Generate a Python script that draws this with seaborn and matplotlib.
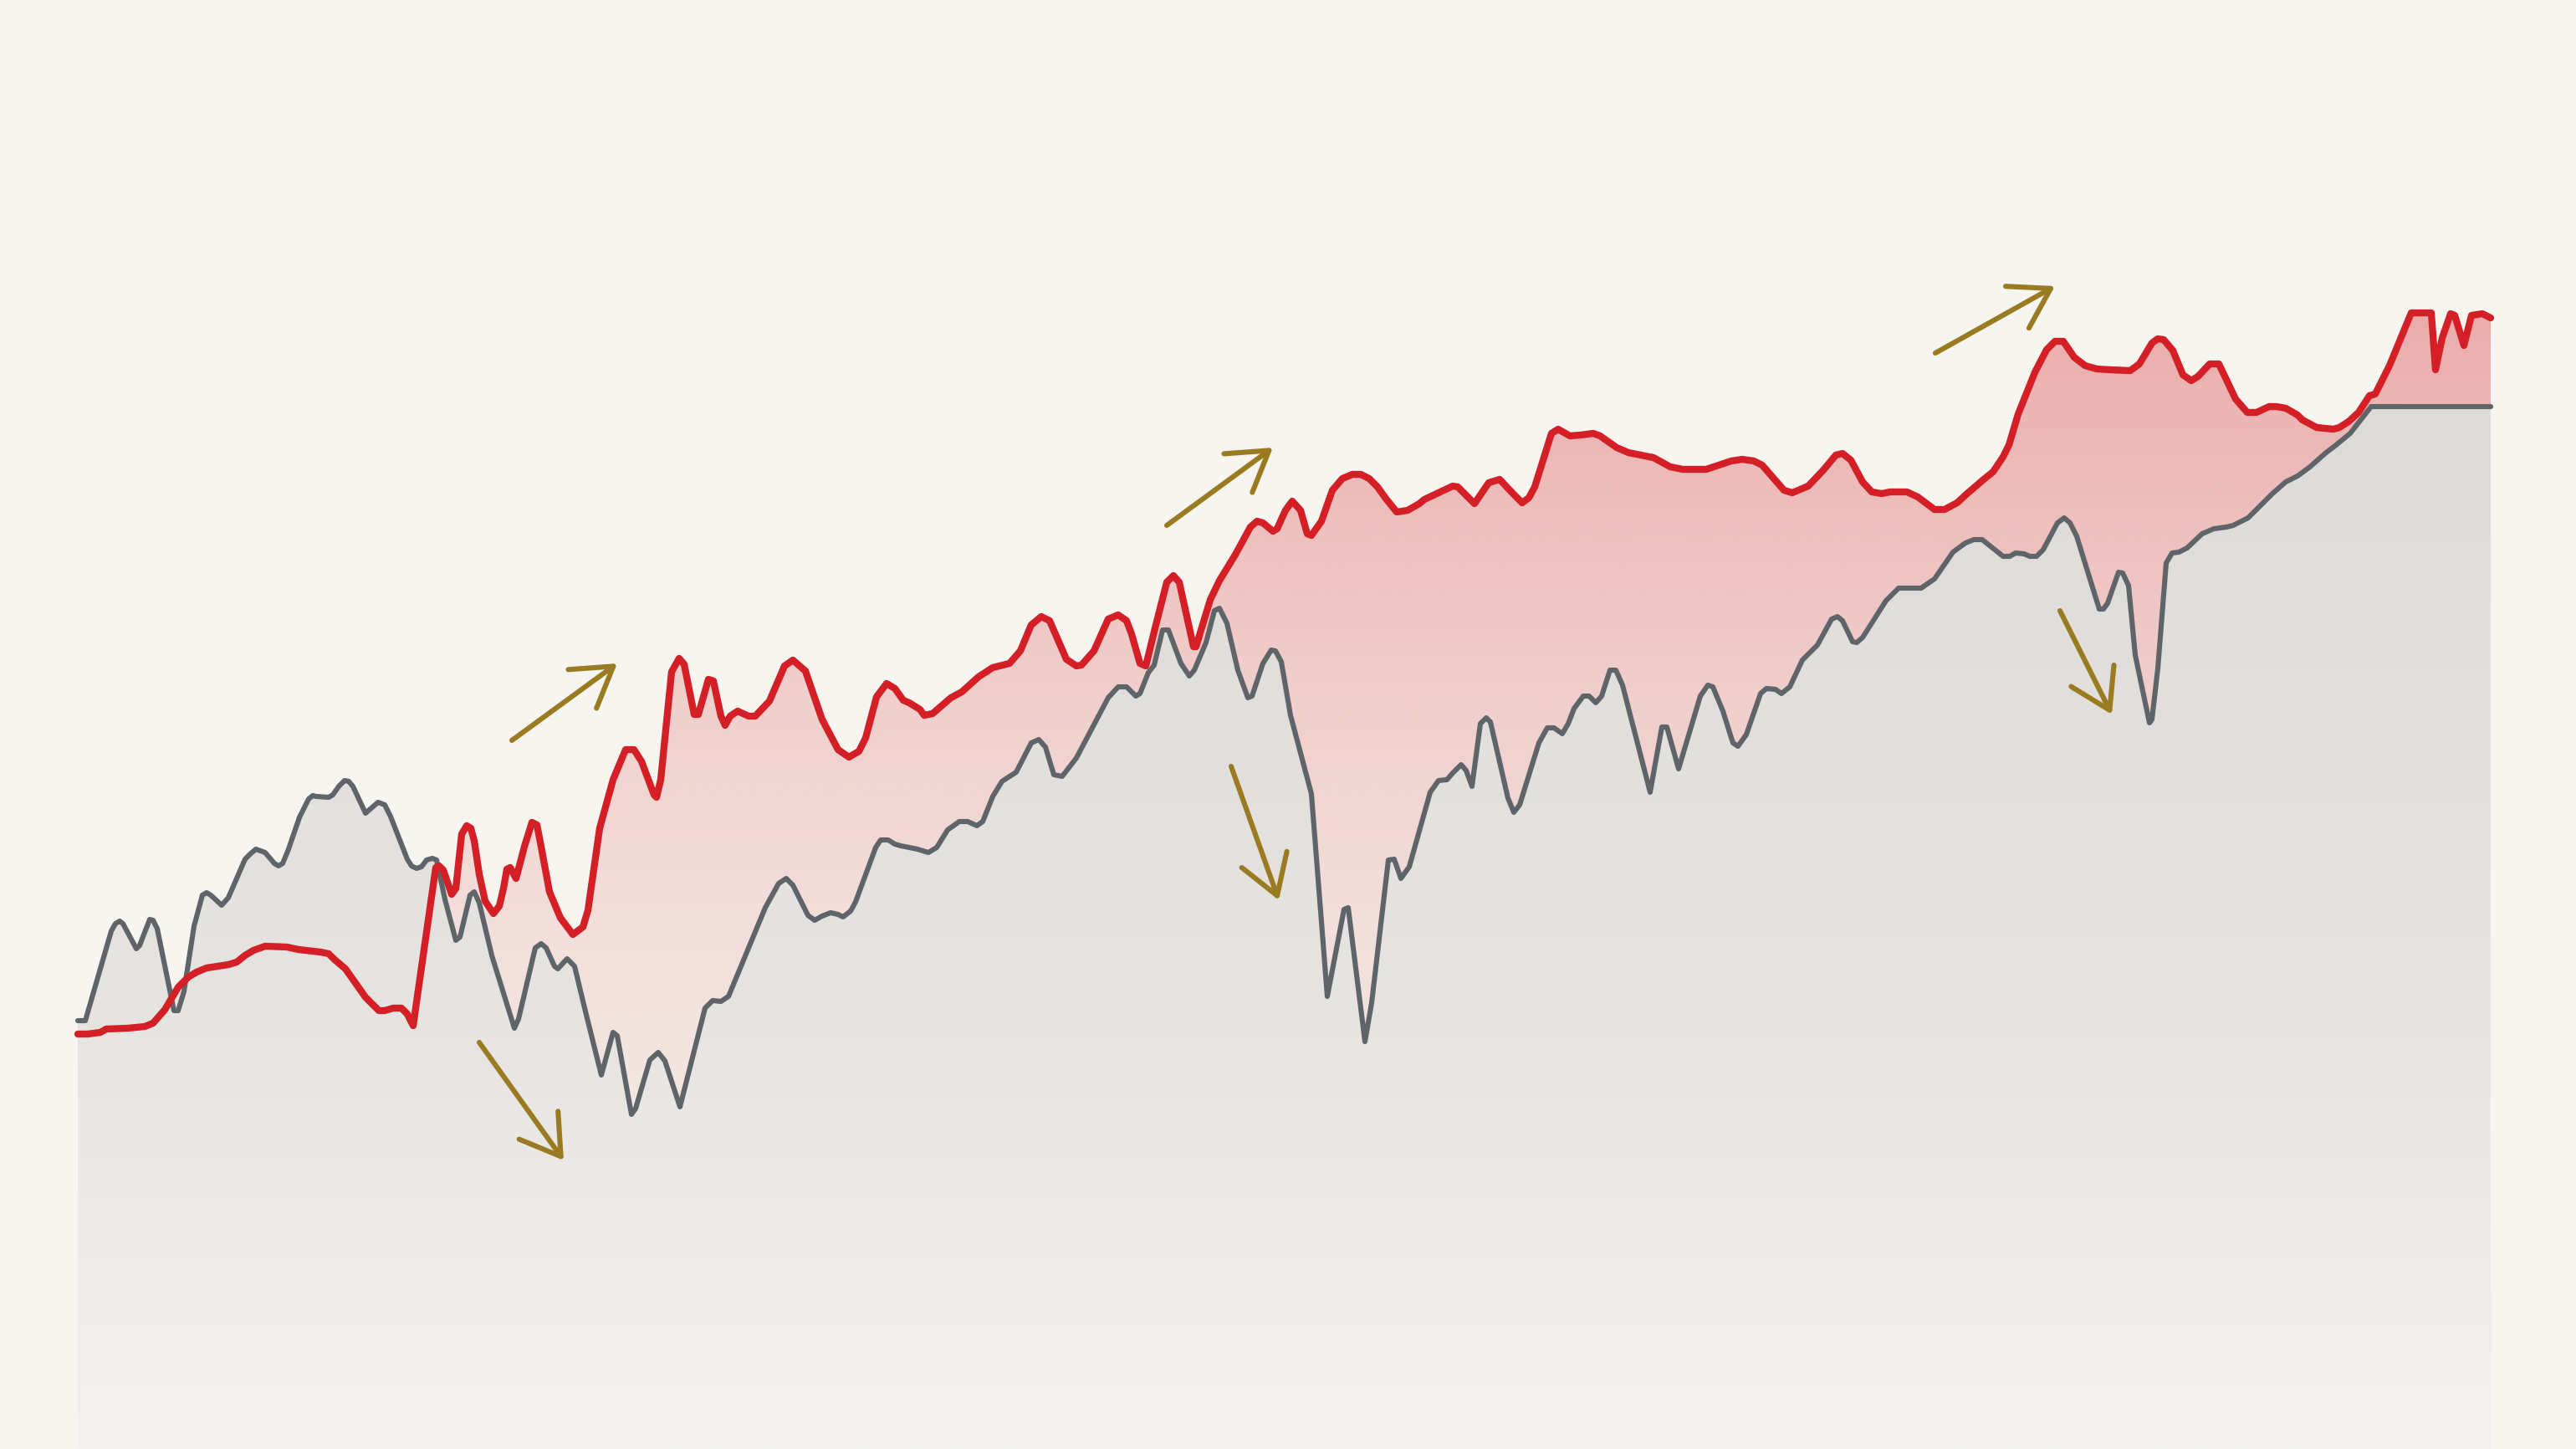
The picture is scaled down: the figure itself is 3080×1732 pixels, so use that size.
# Strategy vs. benchmark equity curve, arrows marking the swings
import numpy as np
import matplotlib
matplotlib.use("Agg")
import matplotlib.pyplot as plt
import matplotlib.colors as mcolors
import seaborn as sns

sns.set_theme(style="white")

# Benchmark (gray) - trading day and index level
bench_day = [0, 9, 40, 45, 50, 54, 70, 74, 86, 90,
             95, 115, 120, 127, 139, 149, 154, 159, 172, 180,
             200, 207, 213, 224, 235, 240, 245, 252, 265, 276,
             281, 285, 300, 305, 312, 319, 324, 329, 344, 359,
             367, 374, 394, 399, 405, 411, 417, 424, 429, 439,
             452, 457, 469, 474, 480, 495, 522, 527, 547, 554,
             560, 570, 574, 585, 594, 607, 626, 640, 645, 662,
             667, 684, 694, 702, 720, 750, 759, 769, 778, 822,
             838, 847, 855, 873, 881, 890, 900, 909, 915, 924,
             930, 954, 960, 969, 977, 984, 1004, 1017, 1027, 1040,
             1054, 1064, 1075, 1082, 1094, 1105, 1122, 1140, 1149, 1157,
             1167, 1177, 1194, 1232, 1244, 1254, 1265, 1270, 1280, 1287,
             1297, 1304, 1319, 1329, 1335, 1349, 1359, 1365, 1374, 1387,
             1399, 1404, 1417, 1427, 1432, 1439, 1450, 1475, 1494, 1514,
             1519, 1539, 1547, 1567, 1574, 1582, 1592, 1617, 1627, 1637,
             1644, 1654, 1660, 1667, 1677, 1684, 1689, 1710, 1717, 1724,
             1747, 1757, 1765, 1775, 1782, 1789, 1800, 1807, 1815, 1822,
             1832, 1839, 1847, 1880, 1894, 1900, 1914, 1940, 1949, 1955,
             1967, 1979, 1985, 1995, 2012, 2019, 2030, 2037, 2047, 2062,
             2080, 2097, 2104, 2110, 2122, 2127, 2134, 2162, 2177, 2204,
             2220, 2242, 2257, 2267, 2277, 2302, 2310, 2317, 2327, 2334,
             2342, 2350, 2367, 2375, 2382, 2390, 2417, 2422, 2427, 2440,
             2445, 2452, 2460, 2477, 2480, 2487, 2497, 2504, 2512, 2522,
             2540, 2554, 2569, 2577, 2595, 2624, 2640, 2654, 2669, 2687,
             2700, 2717, 2742, 2885]
bench_level = [512, 512, 619, 628, 631, 628, 598, 602, 633, 632,
               622, 524, 524, 547, 625, 662, 665, 662, 650, 659,
               705, 712, 717, 713, 700, 697, 700, 717, 755, 777,
               781, 780, 779, 782, 792, 799, 798, 792, 760, 773,
               770, 756, 705, 697, 694, 696, 704, 706, 704, 657,
               608, 612, 662, 666, 653, 590, 503, 514, 599, 604,
               599, 577, 574, 586, 577, 523, 447, 498, 494, 400,
               407, 465, 474, 464, 409, 527, 536, 535, 541, 647,
               676, 682, 674, 638, 632, 637, 641, 639, 636, 643,
               654, 719, 728, 728, 723, 721, 717, 713, 719, 740,
               750, 750, 745, 750, 780, 798, 809, 844, 848, 839,
               806, 804, 826, 898, 911, 911, 900, 903, 928, 937,
               979, 979, 939, 924, 931, 964, 1002, 1005, 987, 931,
               898, 900, 939, 955, 954, 941, 877, 783, 541, 645,
               647, 487, 533, 704, 705, 682, 696, 785, 799, 800,
               808, 818, 811, 792, 867, 874, 869, 778, 761, 770,
               844, 862, 862, 855, 867, 885, 900, 900, 892, 900,
               931, 931, 913, 785, 863, 863, 813, 900, 913, 911,
               882, 844, 840, 854, 903, 909, 908, 903, 911, 943,
               961, 992, 995, 990, 965, 964, 970, 1014, 1029, 1029,
               1040, 1072, 1083, 1087, 1087, 1067, 1067, 1071, 1070, 1067,
               1067, 1075, 1107, 1113, 1107, 1091, 1004, 1004, 1011, 1048,
               1047, 1032, 949, 868, 872, 933, 1059, 1071, 1072, 1077,
               1094, 1100, 1102, 1104, 1113, 1142, 1156, 1163, 1174, 1190,
               1200, 1214, 1246, 1246]

# Strategy (red)
strat_day = [0, 12, 27, 34, 60, 80, 90, 104, 120, 132,
             142, 154, 180, 190, 200, 210, 224, 250, 264, 290,
             300, 307, 320, 344, 354, 360, 367, 377, 387, 394,
             401, 428, 432, 437, 447, 452, 459, 465, 470, 474,
             480, 487, 497, 504, 509, 513, 517, 524, 534, 543,
             549, 554, 564, 577, 592, 604, 610, 624, 640, 655,
             665, 674, 689, 692, 697, 710, 719, 725, 737, 742,
             754, 760, 769, 774, 780, 789, 802, 810, 827, 845,
             855, 870, 890, 909, 922, 934, 942, 955, 967, 977,
             987, 994, 1007, 1012, 1022, 1044, 1057, 1077, 1094, 1114,
             1127, 1140, 1152, 1162, 1182, 1194, 1200, 1215, 1232, 1244,
             1254, 1260, 1270, 1277, 1287, 1302, 1310, 1317, 1334, 1337,
             1354, 1365, 1384, 1402, 1410, 1417, 1429, 1434, 1444, 1452,
             1462, 1470, 1475, 1487, 1500, 1512, 1524, 1534, 1544, 1554,
             1564, 1577, 1590, 1604, 1610, 1644, 1650, 1670, 1687, 1700,
             1717, 1727, 1735, 1742, 1762, 1770, 1784, 1797, 1812, 1820,
             1840, 1854, 1874, 1884, 1904, 1919, 1947, 1977, 1990, 2004,
             2014, 2040, 2050, 2069, 2087, 2102, 2110, 2120, 2134, 2145,
             2157, 2167, 2187, 2200, 2220, 2232, 2247, 2259, 2280, 2290,
             2302, 2309, 2320, 2340, 2354, 2364, 2374, 2387, 2400, 2414,
             2430, 2454, 2465, 2480, 2487, 2494, 2505, 2517, 2527, 2535,
             2549, 2560, 2580, 2594, 2605, 2620, 2629, 2640, 2654, 2660,
             2677, 2697, 2704, 2715, 2727, 2740, 2747, 2764, 2790, 2814,
             2819, 2827, 2837, 2842, 2853, 2862, 2875, 2885]
strat_level = [496, 496, 498, 502, 503, 505, 509, 525, 552, 564,
               570, 575, 579, 582, 590, 596, 601, 600, 597, 594,
               592, 585, 574, 540, 530, 524, 524, 527, 527, 520,
               506, 695, 697, 692, 663, 670, 735, 745, 742, 727,
               687, 655, 640, 649, 670, 693, 695, 682, 720, 749,
               746, 720, 666, 635, 615, 624, 644, 742, 800, 836,
               836, 822, 782, 779, 800, 929, 945, 938, 878, 878,
               920, 918, 876, 865, 876, 882, 876, 876, 894, 936,
               943, 930, 872, 836, 827, 834, 850, 899, 915, 909,
               895, 892, 884, 877, 879, 898, 905, 923, 934, 939,
               954, 985, 995, 990, 944, 936, 937, 954, 992, 997,
               990, 974, 939, 936, 977, 1036, 1044, 1036, 959, 959,
               1015, 1038, 1069, 1102, 1109, 1107, 1097, 1100, 1122, 1133,
               1122, 1094, 1092, 1109, 1146, 1160, 1165, 1165, 1160, 1150,
               1136, 1120, 1122, 1130, 1135, 1151, 1150, 1130, 1155, 1159,
               1141, 1131, 1137, 1150, 1214, 1219, 1211, 1212, 1214, 1211,
               1197, 1191, 1187, 1185, 1174, 1171, 1171, 1181, 1183, 1181,
               1176, 1146, 1143, 1151, 1170, 1188, 1190, 1182, 1156, 1144,
               1142, 1144, 1144, 1138, 1123, 1123, 1131, 1142, 1160, 1168,
               1186, 1200, 1237, 1287, 1314, 1324, 1324, 1305, 1295, 1291,
               1290, 1289, 1297, 1322, 1327, 1326, 1313, 1284, 1277, 1282,
               1297, 1297, 1255, 1239, 1239, 1246, 1246, 1244, 1236, 1230,
               1221, 1219, 1221, 1228, 1239, 1259, 1261, 1295, 1358, 1358,
               1290, 1328, 1357, 1355, 1319, 1355, 1357, 1352]

# Trend arrows (from -> to)
arrow_from_day = [480, 519, 1302, 1379, 2221, 2370]
arrow_from_level = [486, 847, 1104, 816, 1310, 1002]
arrow_to_day = [581, 645, 1429, 1436, 2364, 2432]
arrow_to_level = [345, 939, 1197, 656, 1390, 878]

BG = "#f6f5f0"
RED = "#d41f26"
GRAY = "#5f6469"
GOLD = "#9b7b22"

x_lo, x_hi = -93, 2987
y_lo, y_hi = 0, 1732

fig = plt.figure(figsize=(30.8, 17.32), dpi=100, facecolor=BG)
ax = fig.add_axes([0, 0, 1, 1])
ax.set_facecolor(BG)

levels = np.linspace(y_lo, y_hi, 800)

# red gradient under the strategy line (gray area is painted over it)
red_alpha = np.interp(levels, [400, 632, 932, 1360], [0.07, 0.108, 0.19, 0.34])
red_img = np.zeros((len(levels), 2, 4))
red_img[..., :3] = mcolors.to_rgb(RED)
red_img[..., 3] = red_alpha[:, None]
red_area = ax.fill_between(strat_day, strat_level, 0, color="none", linewidth=0)
im_red = ax.imshow(red_img, extent=(x_lo, x_hi, y_lo, y_hi), origin="lower",
                   aspect="auto", interpolation="bilinear", zorder=1)
im_red.set_clip_path(red_area.get_paths()[0], transform=ax.transData)

# gray gradient under the benchmark line
shade = np.interp(levels, [0, 532, 1250], [243, 229, 220]) / 255
gray_img = np.stack([shade, shade - 1 / 255, shade - 5 / 255], axis=-1)
gray_img = np.repeat(gray_img[:, None, :], 2, axis=1)
gray_area = ax.fill_between(bench_day, bench_level, 0, color="none", linewidth=0)
im_gray = ax.imshow(gray_img, extent=(x_lo, x_hi, y_lo, y_hi), origin="lower",
                    aspect="auto", interpolation="bilinear", zorder=2)
im_gray.set_clip_path(gray_area.get_paths()[0], transform=ax.transData)

# lines
sns.lineplot(x=bench_day, y=bench_level, color=GRAY, linewidth=4.4,
             estimator=None, sort=False, ax=ax, zorder=3,
             solid_capstyle="round", solid_joinstyle="round")
sns.lineplot(x=strat_day, y=strat_level, color=RED, linewidth=6.0,
             estimator=None, sort=False, ax=ax, zorder=4,
             solid_capstyle="round", solid_joinstyle="round")

# arrows
for x0, y0, x1, y1 in zip(arrow_from_day, arrow_from_level, arrow_to_day, arrow_to_level):
    ax.annotate("", xy=(x1, y1), xytext=(x0, y0), zorder=5,
                arrowprops=dict(arrowstyle="->,head_length=1.65,head_width=1.03",
                                mutation_scale=20, color=GOLD, lw=4.4,
                                shrinkA=0, shrinkB=0,
                                capstyle="round", joinstyle="round"))

ax.set_xlim(x_lo, x_hi)
ax.set_ylim(y_lo, y_hi)
ax.axis("off")

fig.savefig("out.png", dpi=100, facecolor=BG)
